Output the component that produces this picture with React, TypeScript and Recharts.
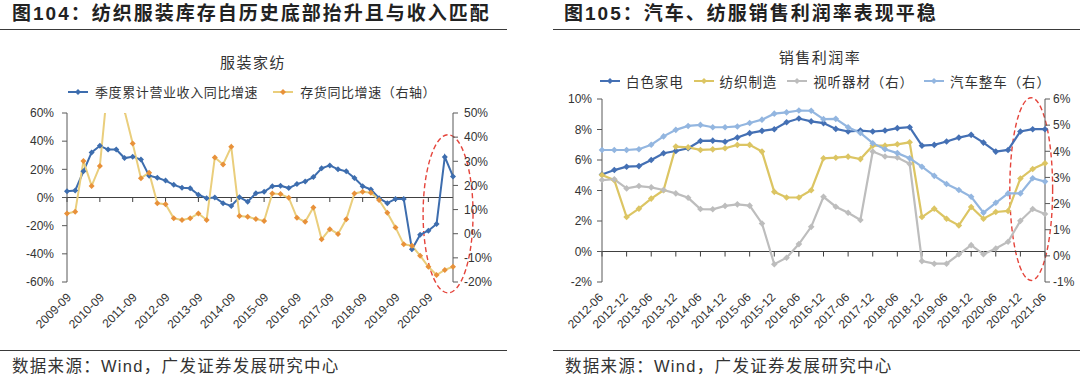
import React from 'react';
import { LineChart, Line, XAxis, YAxis, ReferenceLine, ReferenceArea } from 'recharts';

// 图104 quarterly categories
const quarters104 = [
  '2009-09', '2009-12',
  '2010-03', '2010-06', '2010-09', '2010-12',
  '2011-03', '2011-06', '2011-09', '2011-12',
  '2012-03', '2012-06', '2012-09', '2012-12',
  '2013-03', '2013-06', '2013-09', '2013-12',
  '2014-03', '2014-06', '2014-09', '2014-12',
  '2015-03', '2015-06', '2015-09', '2015-12',
  '2016-03', '2016-06', '2016-09', '2016-12',
  '2017-03', '2017-06', '2017-09', '2017-12',
  '2018-03', '2018-06', '2018-09', '2018-12',
  '2019-03', '2019-06', '2019-09', '2019-12',
  '2020-03', '2020-06', '2020-09', '2020-12',
  '2021-03', '2021-06',
];
// 季度累计营业收入同比增速 (left axis, %)
const revenueYoY = [
  4.5, 5, 18.6, 32, 36.7, 34, 34, 28, 29, 27, 15.5, 14,
  12, 9, 7, 6.5, 2, -0.5, 0, -4, -6, 0.2, -3, 3,
  4, 8, 8.3, 6.7, 9.5, 11.4, 14.5, 20.7, 22.8, 20, 18.6, 13.8,
  8, 5.7, -0.5, -4, -1, -1, -36.7, -26.4, -23.6, -18.8, 28.8, 15,
];
// 存货同比增速 (right axis, %)
const inventoryYoY = [
  8.4, 9.1, 30.1, 19.8, 28, 63, 64, 51, 37.4, 23, 25.3, 12.6,
  12.2, 6.4, 5.7, 6.4, 8.4, 5.7, 31.6, 28.7, 36, 7.3, 7, 6.1,
  5.3, 16.7, 16.4, 14.9, 6.6, 5, 10.9, -2.3, 1.9, -0.1, 6, 16.7,
  17.4, 17, 14, 8.7, 2.6, -4.4, -5, -9.1, -13.7, -17.1, -15, -13.7,
];
const left104Ticks = [-60, -40, -20, 0, 20, 40, 60];
const right104Ticks = [-20, -10, 0, 10, 20, 30, 40, 50];

// 图105 quarterly categories
const quarters105 = [
  '2012-06', '2012-09', '2012-12',
  '2013-03', '2013-06', '2013-09', '2013-12',
  '2014-03', '2014-06', '2014-09', '2014-12',
  '2015-03', '2015-06', '2015-09', '2015-12',
  '2016-03', '2016-06', '2016-09', '2016-12',
  '2017-03', '2017-06', '2017-09', '2017-12',
  '2018-03', '2018-06', '2018-09', '2018-12',
  '2019-03', '2019-06', '2019-09', '2019-12',
  '2020-03', '2020-06', '2020-09', '2020-12',
  '2021-03', '2021-06',
];
// 白色家电 (left)
const whiteGoods = [
  5.05, 5.34, 5.56, 5.6, 6.0, 6.44, 6.59, 6.77, 7.25, 7.27, 7.2, 7.47,
  7.76, 7.91, 8.02, 8.48, 8.72, 8.53, 8.42, 8.04, 7.87, 7.93, 7.87, 7.93,
  8.09, 8.15, 6.94, 6.99, 7.21, 7.47, 7.65, 7.14, 6.55, 6.66, 7.87, 8.02, 8.02,
];
// 纺织制造 (left)
const textile = [
  5.01, 4.68, 2.26, 2.81, 3.47, 4.02, 6.88, 6.83, 6.66, 6.7, 6.77, 6.99,
  6.99, 6.55, 3.91, 3.54, 3.54, 4.02, 6.11, 6.15, 6.22, 6.06, 6.94, 6.94,
  7.03, 7.16, 2.26, 2.81, 2.15, 1.71, 2.92, 2.15, 2.59, 2.66, 4.79, 5.41, 5.78,
];
// 视听器材 (right)
const audioVideo = [
  2.9, 2.93, 2.58, 2.67, 2.62, 2.52, 2.39, 2.22, 1.79, 1.78, 1.91, 1.97,
  1.92, 1.24, -0.32, -0.07, 0.45, 1.11, 2.26, 1.88, 1.65, 1.37, 3.99, 3.8,
  3.76, 3.52, -0.2, -0.3, -0.3, 0.06, 0.41, 0.06, 0.28, 0.54, 1.34, 1.79, 1.6,
];
// 汽车整车 (right)
const autos = [
  4.05, 4.05, 4.05, 4.08, 4.25, 4.57, 4.82, 4.97, 5.01, 4.92, 4.92, 4.95,
  5.08, 5.21, 5.44, 5.49, 5.56, 5.55, 5.23, 5.24, 4.92, 4.7, 4.31, 4.08,
  3.93, 3.73, 3.41, 3.06, 2.75, 2.52, 2.26, 1.65, 2.03, 2.39, 2.39, 2.97, 2.84,
];
const left105Ticks = [-2, 0, 2, 4, 6, 8, 10];
const right105Ticks = [-1, 0, 1, 2, 3, 4, 5, 6];

const data104 = quarters104.map((q, i) => ({ q, revenue: revenueYoY[i], inventory: inventoryYoY[i] }));
const data105 = quarters105.map((q, i) => ({
  q,
  whiteGoods: whiteGoods[i],
  textile: textile[i],
  audioVideo: audioVideo[i],
  autos: autos[i],
}));
const marks104 = quarters104.filter((_, i) => i % 4 === 0);
const marks105 = quarters105.filter((_, i) => i % 2 === 0);

const LATIN = "'Liberation Sans', Arial, 'Noto Sans CJK SC', sans-serif";
const CJK = "'Noto Sans CJK SC', 'Liberation Sans', sans-serif";
const AXIS = '#595959';
const TEXT = '#333';

const C_REV = '#3D6DAE';
const C_INV_LINE = '#EACE7C';
const C_INV_DOT = '#E8913A';
const C_WHITE = '#4470B4';
const C_TEXTILE = '#DCC563';
const C_AV = '#BDBDBD';
const C_AUTO = '#93B6E0';

const diamond = (color: string, r: number) => (props: any) => {
  const { cx, cy, index } = props;
  if (cx == null || cy == null) return <g key={index} />;
  return (
    <path key={index} d={`M${cx},${cy - r}L${cx + r},${cy}L${cx},${cy + r}L${cx - r},${cy}Z`} fill={color} />
  );
};

const SlantTick = ({ x, y, payload, shift }: any) => (
  <g transform={`translate(${x + shift},${y + 16}) rotate(-45)`}>
    <text x={0} y={0} textAnchor="end" fontSize={12} fill={TEXT} fontFamily={LATIN}>
      {payload.value}
    </text>
  </g>
);

const Ellipse = ({ x, y, width, height, fx, fw }: any) => (
  <ellipse
    cx={x + width * fx}
    cy={y + height / 2}
    rx={width * fw}
    ry={height / 2}
    fill="none"
    stroke="#E5443B"
    strokeWidth={1.4}
    strokeDasharray="5 3"
  />
);

const LegendKey = ({ line, dot }: { line: string; dot: string }) => (
  <svg width={20} height={10} style={{ display: 'block' }}>
    <line x1={0} y1={5} x2={20} y2={5} stroke={line} strokeWidth={2} />
    <path d="M10,2L13,5L10,8L7,5Z" fill={dot} />
  </svg>
);

const LegendRow = ({ items, left, top, fontSize, spacing, gap, textGap }: any) => (
  <div
    style={{
      position: 'absolute', left, top, display: 'flex', alignItems: 'center', whiteSpace: 'nowrap',
      fontFamily: CJK, fontSize, letterSpacing: spacing, color: TEXT, lineHeight: '16px',
    }}
  >
    {items.map((it: any, i: number) => (
      <div key={it.name} style={{ display: 'flex', alignItems: 'center', marginLeft: i === 0 ? 0 : gap }}>
        <LegendKey line={it.line} dot={it.dot} />
        <span style={{ marginLeft: textGap }}>{it.name}</span>
      </div>
    ))}
  </div>
);

const Rule = ({ left, width, top }: any) => (
  <div style={{ position: 'absolute', left, width, top, height: 1.3, background: '#3a3a3a' }} />
);

const Title = ({ left, children }: any) => (
  <div
    style={{
      position: 'absolute', left, top: 3, fontFamily: LATIN, fontWeight: 700, fontSize: 19,
      letterSpacing: 2, color: '#222', lineHeight: '22px', whiteSpace: 'nowrap',
    }}
  >
    {children}
  </div>
);

const Source = ({ left }: any) => (
  <div
    style={{
      position: 'absolute', left, top: 356, fontFamily: LATIN, fontSize: 16.5, color: TEXT,
      lineHeight: '20px', letterSpacing: 1.3, whiteSpace: 'nowrap',
    }}
  >
    数据来源：Wind，广发证券发展研究中心
  </div>
);

const ChartTitle = ({ cx, top, children }: any) => (
  <div
    style={{
      position: 'absolute', left: cx - 100, width: 200, top, textAlign: 'center', fontFamily: CJK,
      fontSize: 15, letterSpacing: 1.5, color: TEXT, lineHeight: '18px',
    }}
  >
    {children}
  </div>
);

const tickStyle = { fontSize: 12, fill: TEXT, fontFamily: LATIN };
const pct = (v: number) => `${v}%`;

const InventoryChart = () => (
  <LineChart width={540} height={382} data={data104} margin={{ top: 113, right: 37, bottom: 40, left: 17 }}>
    <XAxis
      dataKey="q"
      interval={3}
      axisLine={false}
      tickLine={false}
      tickSize={0}
      tickMargin={0}
      height={60}
      tick={<SlantTick shift={5} />}
    />
    <YAxis
      yAxisId="left"
      domain={[-60, 60]}
      ticks={left104Ticks}
      tickFormatter={pct}
      width={50}
      tickSize={5}
      tickMargin={8}
      stroke={AXIS}
      tick={tickStyle}
    />
    <YAxis
      yAxisId="right"
      orientation="right"
      domain={[-20, 50]}
      allowDataOverflow
      ticks={right104Ticks}
      tickFormatter={pct}
      width={50}
      tickSize={5}
      tickMargin={6}
      stroke={AXIS}
      tick={tickStyle}
    />
    <ReferenceLine yAxisId="left" y={0} stroke="#404040" strokeWidth={1.2} />
    {marks104.map((c) => (
      <ReferenceLine key={c} yAxisId="left" segment={[{ x: c, y: 0 }, { x: c, y: -3.2 }]} stroke="#404040" />
    ))}
    <Line
      yAxisId="left"
      dataKey="revenue"
      name="季度累计营业收入同比增速"
      stroke={C_REV}
      strokeWidth={2}
      dot={diamond(C_REV, 3)}
      isAnimationActive={false}
    />
    <Line
      yAxisId="right"
      dataKey="inventory"
      name="存货同比增速（右轴）"
      stroke={C_INV_LINE}
      strokeWidth={2}
      dot={diamond(C_INV_DOT, 3)}
      isAnimationActive={false}
    />
    <ReferenceArea
      yAxisId="right"
      x1={quarters104[43]}
      x2={quarters104[47]}
      y1={-24.5}
      y2={41}
      ifOverflow="visible"
      shape={<Ellipse fx={0.85} fw={0.76} />}
    />
  </LineChart>
);

const MarginChart = () => (
  <LineChart width={540} height={382} data={data105} margin={{ top: 99, right: 5, bottom: 40, left: 17 }}>
    <XAxis
      dataKey="q"
      interval={1}
      axisLine={false}
      tickLine={false}
      tickSize={0}
      tickMargin={0}
      height={60}
      tick={<SlantTick shift={2} />}
    />
    <YAxis
      yAxisId="left"
      domain={[-2, 10]}
      ticks={left105Ticks}
      tickFormatter={pct}
      width={45}
      tickSize={5}
      tickMargin={5}
      stroke={AXIS}
      tick={tickStyle}
    />
    <YAxis
      yAxisId="right"
      orientation="right"
      domain={[-1, 6]}
      ticks={right105Ticks}
      tickFormatter={pct}
      width={30}
      tickSize={5}
      tickMargin={3}
      stroke={AXIS}
      tick={tickStyle}
    />
    <ReferenceLine yAxisId="left" y={0} stroke="#404040" strokeWidth={1.2} />
    {marks105.map((c) => (
      <ReferenceLine key={c} yAxisId="left" segment={[{ x: c, y: 0 }, { x: c, y: -0.33 }]} stroke="#404040" />
    ))}
    <Line yAxisId="left" dataKey="whiteGoods" name="白色家电" stroke={C_WHITE} strokeWidth={2.2}
      dot={diamond(C_WHITE, 3.3)} isAnimationActive={false} />
    <Line yAxisId="left" dataKey="textile" name="纺织制造" stroke={C_TEXTILE} strokeWidth={2.2}
      dot={diamond(C_TEXTILE, 3.3)} isAnimationActive={false} />
    <Line yAxisId="right" dataKey="audioVideo" name="视听器材（右）" stroke={C_AV} strokeWidth={2.2}
      dot={diamond(C_AV, 3.3)} isAnimationActive={false} />
    <Line yAxisId="right" dataKey="autos" name="汽车整车（右）" stroke={C_AUTO} strokeWidth={2.2}
      dot={diamond(C_AUTO, 3.3)} isAnimationActive={false} />
    <ReferenceArea
      yAxisId="right"
      x1={quarters105[34]}
      x2={quarters105[36]}
      y1={-0.94}
      y2={6.05}
      ifOverflow="visible"
      shape={<Ellipse fx={0.44} fw={0.87} />}
    />
  </LineChart>
);

export default function App() {
  return (
    <div style={{ position: 'absolute', left: 0, top: 0, width: 1080, height: 382, background: '#fff', overflow: 'hidden' }}>
      <Title left={12}>图104：纺织服装库存自历史底部抬升且与收入匹配</Title>
      <Title left={564}>图105：汽车、纺服销售利润率表现平稳</Title>
      <Rule left={0} width={507} top={29} />
      <Rule left={553} width={527} top={29} />

      <ChartTitle cx={253} top={53}>服装家纺</ChartTitle>
      <ChartTitle cx={820} top={48}>销售利润率</ChartTitle>

      <LegendRow
        left={68}
        top={84}
        fontSize={13}
        spacing={0.6}
        gap={15}
        textGap={7}
        items={[
          { name: '季度累计营业收入同比增速', line: C_REV, dot: C_REV },
          { name: '存货同比增速（右轴）', line: C_INV_LINE, dot: C_INV_DOT },
        ]}
      />
      <LegendRow
        left={600}
        top={73}
        fontSize={13.5}
        spacing={0.9}
        gap={10}
        textGap={6}
        items={[
          { name: '白色家电', line: C_WHITE, dot: C_WHITE },
          { name: '纺织制造', line: C_TEXTILE, dot: C_TEXTILE },
          { name: '视听器材（右）', line: C_AV, dot: C_AV },
          { name: '汽车整车（右）', line: C_AUTO, dot: C_AUTO },
        ]}
      />

      <div style={{ position: 'absolute', left: 0, top: 0 }}>
        <InventoryChart />
      </div>
      <div style={{ position: 'absolute', left: 540, top: 0 }}>
        <MarginChart />
      </div>

      <Rule left={0} width={507} top={350} />
      <Rule left={553} width={527} top={350} />
      <Source left={12} />
      <Source left={565} />
    </div>
  );
}
